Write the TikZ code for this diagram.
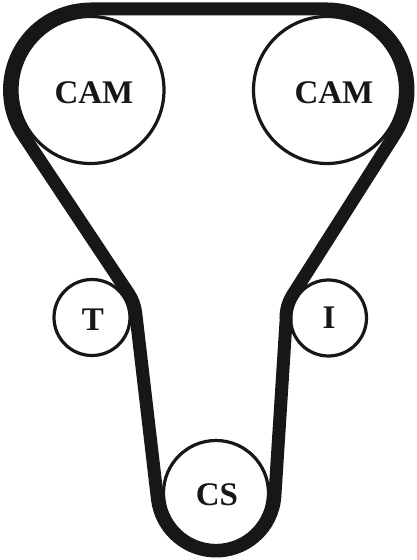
\documentclass[tikz,border=0pt]{standalone}
\usepackage{fontspec}
\setmainfont{Liberation Serif}
\definecolor{beltcol}{gray}{0.09}
\tikzset{
  pulley/.style={draw=beltcol,circle,fill=white,line width=3.2pt,inner sep=0pt},
  lab/.style={font=\fontsize{33}{33}\selectfont\bfseries,text=beltcol,inner sep=0pt},
  belt/.style={draw=beltcol,line width=13pt,line join=round},
}
\begin{document}
\begin{tikzpicture}[x=1pt,y=1pt]
  \useasboundingbox (0,0) rectangle (417,560);
  \node[pulley,minimum size=147pt] (camL) at (90.5,470) {};
  \node[pulley,minimum size=147pt] (camR) at (327,470) {};
  \node[pulley,minimum size=76pt] (tens) at (92,242.5) {};
  \node[pulley,minimum size=76pt] (idler) at (328.5,242) {};
  \node[pulley,minimum size=105pt] (crank) at (216,67) {};
  \draw[belt] (90.5,551) -- (327,551) arc[start angle=90,end angle=-32.45,radius=81]
    -- (292.7,265.1) arc[start angle=147.55,end angle=183.6,radius=43]
    -- (274.9,64.3) arc[start angle=-3.6,end angle=-173.3,radius=59]
    -- (135.7,247.1) arc[start angle=6.7,end angle=33.63,radius=44]
    -- (23.1,425.1) arc[start angle=213.63,end angle=90,radius=81] -- cycle;
  \node[lab] (camLtext) at (94,467) {CAM};
  \node[lab] (camRtext) at (334,467) {CAM};
  \node[lab] (tenstext) at (93,240) {T};
  \node[lab] (idlertext) at (329,242) {I};
  \node[lab] (cranktext) at (217,65) {CS};
\end{tikzpicture}
\end{document}
